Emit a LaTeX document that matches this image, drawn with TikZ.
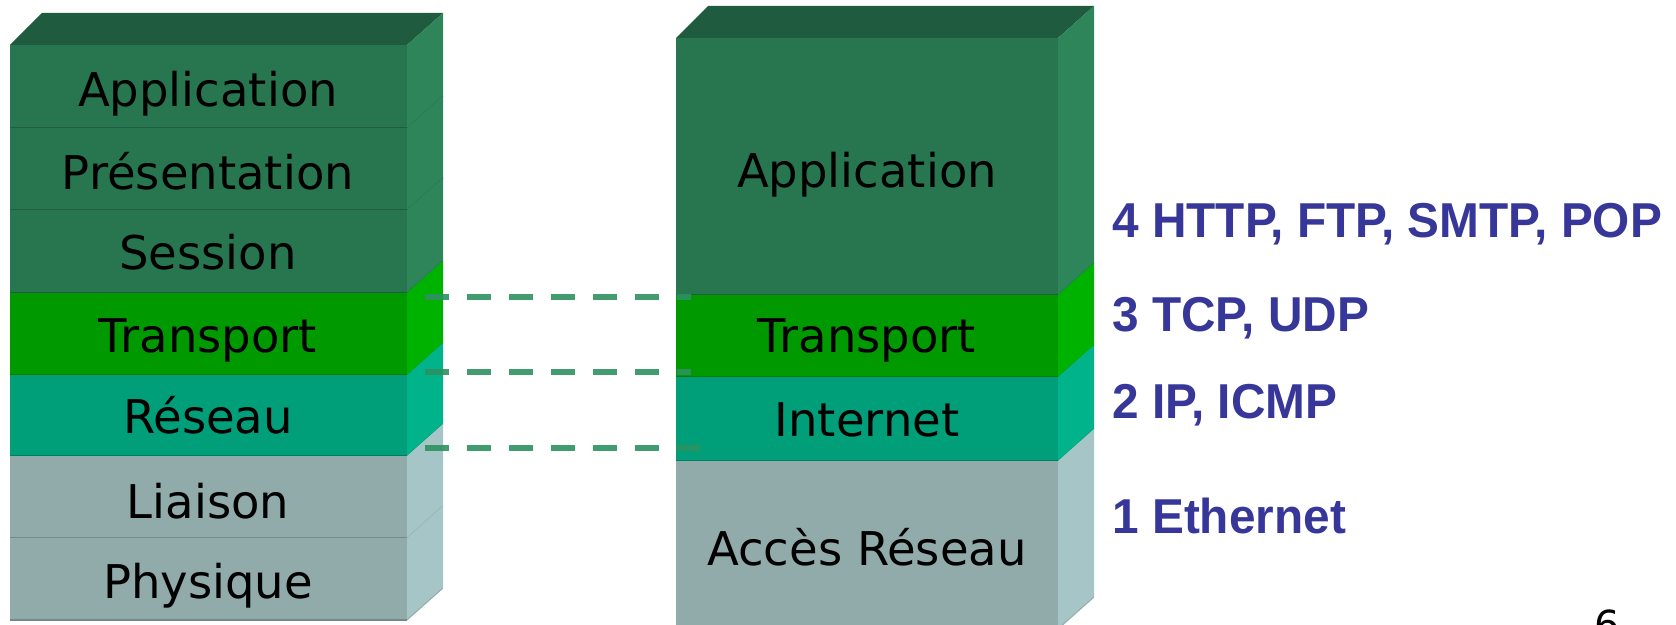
\documentclass[tikz,border=0pt]{standalone}
\usepackage{fontspec}
\usepackage{graphicx}
\setmainfont{DejaVu Sans}
\newfontfamily\protofont{Liberation Sans}

% Couleurs des couches
\definecolor{vertdessus}{HTML}{1E5B3F}
\definecolor{vertface}{HTML}{277650}
\definecolor{vertcote}{HTML}{2E855A}
\definecolor{transface}{HTML}{009900}
\definecolor{transcote}{HTML}{00B200}
\definecolor{reseauface}{HTML}{009E79}
\definecolor{reseaucote}{HTML}{00B38B}
\definecolor{grisface}{HTML}{91ABAB}
\definecolor{griscote}{HTML}{A6C5C6}
\definecolor{tirets}{HTML}{2D915F}
\definecolor{protobleu}{HTML}{373799}

% Une couche : face avant, cote et arete du bas
% #1 x gauche, #2 x droite, #3 y haut, #4 y bas, #5 face, #6 cote
\newcommand{\etage}[6]{%
  \fill[#5] (#1,#3) rectangle (#2,#4);
  \fill[#6] (#2,#3) -- ++(36,-32) -- ++(0,#4-#3) -- (#2,#4) -- cycle;
  \draw[#5!80!black, line width=1pt] (#1,#4) -- (#2,#4);
  \draw[#6!88!black, line width=0.5pt] (#2,#4) -- ++(36,-32);
}

\tikzset{
  couche/.style={font=\fontsize{23.25}{28}\selectfont, anchor=base},
  proto/.style={font=\protofont\bfseries\fontsize{24.5}{28}\selectfont,
    text=protobleu, anchor=base west, inner sep=0pt},
  pointilles/.style={draw=tirets, line width=3pt, dash pattern=on 12pt off 9pt,
    opacity=0.9},
}

\begin{document}
\begin{tikzpicture}[x=0.5pt, y=-0.5pt]
	\path[use as bounding box, clip] (0,0) rectangle (1676,625);
	
	% Modele OSI (gauche)
	\fill[vertdessus] (10,45) -- (42,13) -- (443,13) -- (407,45) -- cycle;
	\etage{10}{407}{45}{128}{vertface}{vertcote}
	\etage{10}{407}{128}{210}{vertface}{vertcote}
	\etage{10}{407}{210}{293}{vertface}{vertcote}
	\etage{10}{407}{293}{375}{transface}{transcote}
	\etage{10}{407}{375}{456}{reseauface}{reseaucote}
	\etage{10}{407}{456}{538}{grisface}{griscote}
	\etage{10}{407}{538}{620}{grisface}{griscote}
	
	\node[couche] (osi-app) at (208,107) {Application};
	\node[couche] (osi-pres) at (208,190) {Présentation};
	\node[couche] (osi-ses) at (208,270) {Session};
	\node[couche] (osi-trans) at (208,353) {Transport};
	\node[couche] (osi-res) at (208,434) {Réseau};
	\node[couche] (osi-liai) at (208,518) {Liaison};
	\node[couche] (osi-phys) at (208,598) {Physique};
	
	% Modele TCP/IP (droite)
	\fill[vertdessus] (676,38) -- (708,6) -- (1094,6) -- (1058,38) -- cycle;
	\etage{676}{1058}{38}{295}{vertface}{vertcote}
	\etage{676}{1058}{295}{377}{transface}{transcote}
	\etage{676}{1058}{377}{461}{reseauface}{reseaucote}
	\etage{676}{1058}{461}{629}{grisface}{griscote}
	
	\node[couche] (tcp-app) at (867,188) {Application};
	\node[couche] (tcp-trans) at (867,353) {Transport};
	\node[couche] (tcp-int) at (867,437) {Internet};
	\node[couche] (tcp-acces) at (867,565) {Accès Réseau};
	
	% Correspondances en pointilles
	\coordinate (osi-t) at (425,297);
	\coordinate (tcp-t) at (691,297);
	\coordinate (osi-r) at (425,372);
	\coordinate (tcp-r) at (691,372);
	\coordinate (osi-l) at (425,448);
	\coordinate (tcp-l) at (700,448);
	\draw[pointilles] (osi-t) -- (tcp-t);
	\draw[pointilles] (osi-r) -- (tcp-r);
	\draw[pointilles] (osi-l) -- (tcp-l);
	
	% Protocoles
	\node[proto] (p4) at (1112,238) {\scalebox{0.975}[1]{4 HTTP, FTP, SMTP, POP}};
	\node[proto] (p3) at (1112,332) {\scalebox{0.975}[1]{3 TCP, UDP}};
	\node[proto] (p2) at (1112,419) {\scalebox{0.975}[1]{2 IP, ICMP}};
	\node[proto] (p1) at (1112,533) {\scalebox{0.975}[1]{1 Ethernet}};
	
	% Numero de page
	\node[anchor=base, font=\fontsize{20}{24}\selectfont] (page) at (1607,639) {6};
	
\end{tikzpicture}
\end{document}
